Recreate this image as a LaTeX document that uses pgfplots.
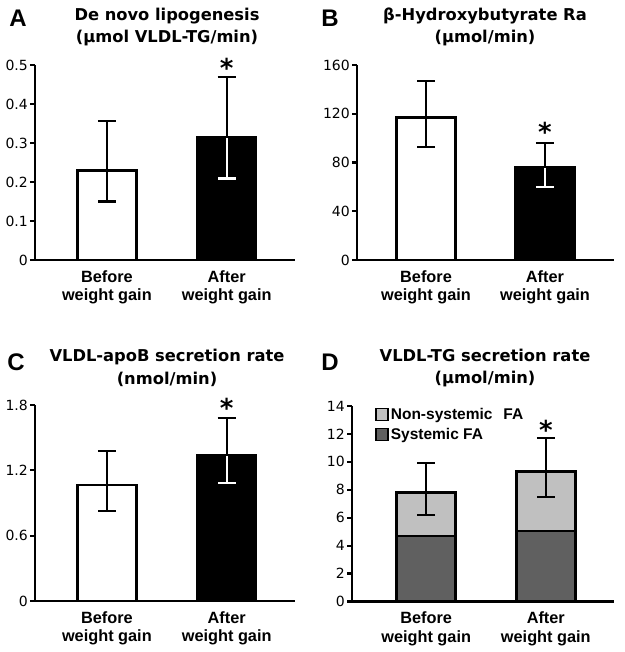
\documentclass[border=0pt]{standalone}
\usepackage{fontspec}
\setmainfont{Liberation Sans}
\newfontfamily\dvs{DejaVu Sans}
\usepackage{pgfplots}
\pgfplotsset{compat=1.18}
\definecolor{lgray}{HTML}{C0C0C0}
\definecolor{dgray}{HTML}{606060}
\pgfplotsset{
 panel/.style={
  scale only axis, axis lines*=left, axis line style={-, line width=2.4pt},
  tick align=outside, major tick length=5pt,
  ytick style={line width=2.2pt, black},
  x tick style={draw=none},
  xtick={0,1}, xticklabels={Before\\weight gain, After\\weight gain},
  xticklabel style={align=center, font=\fontsize{16.3}{18.5}\selectfont\bfseries, yshift=-2pt},
  yticklabel style={font=\dvs\fontsize{14}{16}\selectfont, inner sep=2pt},
  /pgf/number format/assume math mode=true,
  /pgf/number format/fixed,
  ymin=0, xmin=-0.6, xmax=1.57, anchor=south west, clip=false,
 },
 bbar/.style={ybar, bar shift=0pt, bar width=59pt, line width=2.4pt, draw=black},
 eb/.style n args={2}{error bars/.cd, y explicit, y dir=#1,
   error bar style={line width=2.2pt, draw=#2},
   error mark options={rotate=90, line width=2.2pt, mark size=9pt, draw=#2}},
}
\newcommand{\ttl}{\dvs\fontsize{16.3}{22.3}\selectfont\bfseries}
\newcommand{\plet}{\fontsize{24}{24}\selectfont\bfseries}
\newcommand{\astk}{{\dvs\fontsize{26}{26}\selectfont\bfseries *}}
\begin{document}
\begin{tikzpicture}[x=1pt,y=1pt]
\path[use as bounding box] (0,0) rectangle (624,-652);
% Panel A
\begin{axis}[panel, at={(35pt,-260pt)}, width=260pt, height=195pt, ymax=0.5,
  ytick={0,0.1,...,0.5}]
\addplot[bbar, fill=white, eb={both}{black}] coordinates {(0,0.229) += (0,0.128) -= (0,0.079)};
\addplot[bbar, fill=black, eb={plus}{black}] coordinates {(1,0.315) += (0,0.155) -= (0,0.106)};
\addplot[bbar, fill=black, eb={minus}{white}] coordinates {(1,0.315) += (0,0.155) -= (0,0.106)};
\addplot[bbar, fill=none, forget plot] coordinates {(1,0.315)};
\node[inner sep=0pt, anchor=north] at (axis cs:1,0.517) {\astk};
\end{axis}
% Panel B
\begin{axis}[panel, at={(357pt,-260pt)}, width=257pt, height=195pt, ymax=160,
  ytick={0,40,...,160}, xmin=-0.58, xmax=1.58]
\addplot[bbar, fill=white, eb={both}{black}] coordinates {(0,117) += (0,29.6) -= (0,24)};
\addplot[bbar, fill=black, eb={plus}{black}] coordinates {(1,76.3) += (0,19.4) -= (0,16.7)};
\addplot[bbar, fill=black, eb={minus}{white}] coordinates {(1,76.3) += (0,19.4) -= (0,16.7)};
\addplot[bbar, fill=none, forget plot] coordinates {(1,76.3)};
\node[inner sep=0pt, anchor=north] at (axis cs:1,113.5) {\astk};
\end{axis}
% Panel C
\begin{axis}[panel, at={(35pt,-601pt)}, width=260pt, height=196pt, ymax=1.8,
  ytick={0,0.6,1.2,1.8}]
\addplot[bbar, fill=white, eb={both}{black}] coordinates {(0,1.068) += (0,0.312) -= (0,0.238)};
\addplot[bbar, fill=black, eb={plus}{black}] coordinates {(1,1.341) += (0,0.343) -= (0,0.260)};
\addplot[bbar, fill=black, eb={minus}{white}] coordinates {(1,1.341) += (0,0.343) -= (0,0.260)};
\addplot[bbar, fill=none, forget plot] coordinates {(1,1.341)};
\node[inner sep=0pt, anchor=north] at (axis cs:1,1.862) {\astk};
\end{axis}
% Panel D
\begin{axis}[panel, at={(352pt,-601.5pt)}, width=262pt, height=195.5pt, ymax=14,
  ytick={0,2,...,14}, xmin=-0.62, xmax=1.57,
  legend style={at={(0.088,1.0)}, anchor=north west, draw=none, fill=none,
    font=\fontsize{15.5}{18}\selectfont\bfseries, row sep=3pt, inner sep=0pt},
  legend cell align=left,
  legend image code/.code={\draw[line width=1.6pt, #1] (0pt,-6pt) rectangle (12pt,6pt);}]
\addplot[bbar, fill=lgray] coordinates {(0,7.82) (1,9.30)};
\addlegendentry{Non-systemic\hspace{11pt}FA}
\addplot[bbar, fill=dgray] coordinates {(0,4.70) (1,5.06)};
\addlegendentry{Systemic FA}
\addplot[bbar, fill=none, forget plot, eb={both}{black}] coordinates {(0,7.82) += (0,2.08) -= (0,1.62) (1,9.30) += (0,2.39) -= (0,1.81)};
\node[inner sep=0pt, anchor=north] at (axis cs:1,13.0) {\astk};
\end{axis}
% titles
\node[font=\plet] at (18,-18) {A};
\node[font=\plet] at (330,-18) {B};
\node[font=\plet] at (16,-362) {C};
\node[font=\plet] at (330,-362) {D};
\node[align=center, font=\ttl] at (167,-27) {De novo lipogenesis\\(µmol VLDL-TG/min)};
\node[align=center, font=\ttl] at (485,-27) {β-Hydroxybutyrate Ra\\(µmol/min)};
\node[align=center, font=\ttl] at (167,-368) {VLDL-apoB secretion rate\\(nmol/min)};
\node[align=center, font=\ttl] at (485,-368) {VLDL-TG secretion rate\\(µmol/min)};
\end{tikzpicture}
\end{document}
